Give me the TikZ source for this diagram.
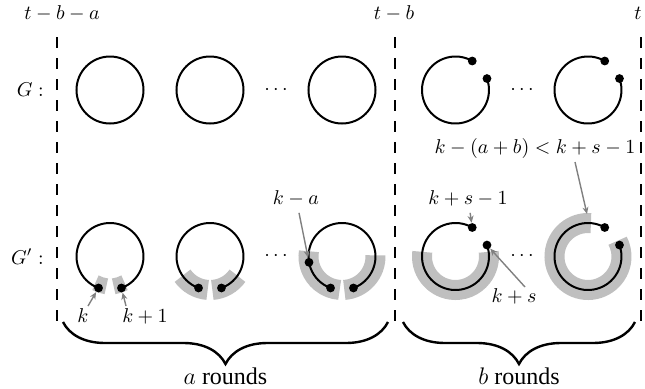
\documentclass[tikz,border=0pt]{standalone}
\usepackage{fontspec}
\newfontfamily\tms{Liberation Serif}
\usetikzlibrary{decorations.pathreplacing,arrows.meta}
\begin{document}
\begin{tikzpicture}[x=0.5pt,y=0.5pt,
  ring/.style={line width=1pt},
  band/.style={line width=10pt, draw=black!25},
  smallband/.style={line width=8pt, draw=black!25},
  dot/.style={circle, fill=black, inner sep=0pt, minimum size=4.4pt},
  sep/.style={line width=1.3pt, dash pattern=on 5.5pt off 5pt},
  pointer/.style={draw=black!50, line width=0.7pt, -{Stealth[length=3.5pt,width=3pt]}},
  brc/.style={decorate, decoration={brace, mirror, amplitude=21pt}, line width=1.2pt},
  rnd/.style={font=\tms\fontsize{12}{14}\selectfont}]
\useasboundingbox (0,0) rectangle (645,388);
\def\R{16.75pt}
% centres
\coordinate (c1) at (110,298);
\coordinate (c2) at (210,298);
\coordinate (c3) at (342,298);
\coordinate (c4) at (455.5,298);
\coordinate (c5) at (588,298);
\coordinate (d1) at (110,131.5);
\coordinate (d2) at (210,131.5);
\coordinate (d3) at (342,131.5);
\coordinate (d4) at (455.5,131.5);
\coordinate (d5) at (588,131.5);
% separators
\coordinate (s1t) at (57,351); \coordinate (s1b) at (57,66);
\coordinate (s2t) at (395,351); \coordinate (s2b) at (395,66);
\coordinate (s3t) at (641,351); \coordinate (s3b) at (641,66);
\draw[sep] (s1t) -- (s1b);
\draw[sep] (s2t) -- (s2b);
\draw[sep] (s3t) -- (s3b);
% top labels
\node[anchor=base] (ltba) at (62,369) {$t-b-a$};
\node[anchor=base] (ltb) at (394,369) {$t-b$};
\node[anchor=base] (lt) at (638,369) {$t$};
\node[anchor=east, inner sep=0pt] (lG) at (44,298) {$G:$};
\node[anchor=east, inner sep=0pt] (lGp) at (44,131.5) {$G':$};
% G row
\draw[ring] (c1) circle[radius=\R];
\draw[ring] (c2) circle[radius=\R];
\draw[ring] (c3) circle[radius=\R];
\node (e1) at (276,298) {$\cdots$};
\draw[ring] (c4) ++(60:\R) arc[start angle=60, end angle=380, radius=\R];
\path (c4) ++(60:\R) node[dot] (q4a) {};
\path (c4) ++(20:\R) node[dot] (q4b) {};
\node (e2) at (522,298) {$\cdots$};
\draw[ring] (c5) ++(60:\R) arc[start angle=60, end angle=380, radius=\R];
\path (c5) ++(60:\R) node[dot] (q5a) {};
\path (c5) ++(20:\R) node[dot] (q5b) {};
% G' row : gray bands
\draw[smallband] (d1) ++(241:15pt) arc[start angle=241, end angle=263, radius=15pt];
\draw[smallband] (d1) ++(277:15pt) arc[start angle=277, end angle=299, radius=15pt];
\draw[band] (d2) ++(215:\R) arc[start angle=215, end angle=266, radius=\R];
\draw[band] (d2) ++(274:\R) arc[start angle=274, end angle=325, radius=\R];
\draw[band] (d3) ++(171:\R) arc[start angle=171, end angle=266, radius=\R];
\draw[band] (d3) ++(274:\R) arc[start angle=274, end angle=362, radius=\R];
\draw[band] (d4) ++(172:\R) arc[start angle=172, end angle=368, radius=\R];
\draw[band] (d5) ++(85:\R) arc[start angle=85, end angle=388, radius=\R];
% G' row : arcs and dots
\draw[ring] (d1) ++(-70:\R) arc[start angle=-70, end angle=250, radius=\R];
\path (d1) ++(250:\R) node[dot] (p1a) {};
\path (d1) ++(-70:\R) node[dot] (p1b) {};
\draw[ring] (d2) ++(-70:\R) arc[start angle=-70, end angle=250, radius=\R];
\path (d2) ++(250:\R) node[dot] (p2a) {};
\path (d2) ++(-70:\R) node[dot] (p2b) {};
\node (e3) at (276,131.5) {$\cdots$};
\draw[ring] (d3) ++(-70:\R) arc[start angle=-70, end angle=250, radius=\R];
\path (d3) ++(250:\R) node[dot] (p3a) {};
\path (d3) ++(-70:\R) node[dot] (p3b) {};
\path (d3) ++(190:\R) node[dot] (p3c) {};
\draw[ring] (d4) ++(60:\R) arc[start angle=60, end angle=380, radius=\R];
\path (d4) ++(60:\R) node[dot] (p4a) {};
\path (d4) ++(20:\R) node[dot] (p4b) {};
\node (e4) at (522,131.5) {$\cdots$};
\draw[ring] (d5) ++(60:\R) arc[start angle=60, end angle=380, radius=\R];
\path (d5) ++(60:\R) node[dot] (p5a) {};
\path (d5) ++(20:\R) node[dot] (p5b) {};
% labels and pointers
\node (lk) at (83,72) {$k$};
\node (lk1) at (145,72) {$k+1$};
\node (lka) at (296,190) {$k-a$};
\node (lks1) at (468,190) {$k+s-1$};
\node (lks) at (514,92) {$k+s$};
\node (lbig) at (535,240) {$k-(a+b)<k+s-1$};
\coordinate (ak) at (88,82);
\coordinate (ak1) at (126,82);
\coordinate (aks) at (525,101);
\coordinate (abig) at (575,226);
\coordinate (tbig) at (587,174);
\draw[pointer] (ak) -- (p1a);
\draw[pointer] (ak1) -- (p1b);
\draw[pointer] (lka) -- (p3c);
\draw[pointer] (lks1) -- (p4a);
\draw[pointer] (aks) -- (p4b);
\draw[pointer] (abig) -- (tbig);
% braces
\coordinate (b1l) at (63,66); \coordinate (b1r) at (388,66);
\coordinate (b2l) at (403,66); \coordinate (b2r) at (635,66);
\draw[brc] (b1l) -- (b1r);
\draw[brc] (b2l) -- (b2r);
\node[rnd, anchor=base] (la) at (225.5,4) {$a$ rounds};
\node[rnd, anchor=base] (lb) at (519,4) {$b$ rounds};
\end{tikzpicture}
\end{document}
